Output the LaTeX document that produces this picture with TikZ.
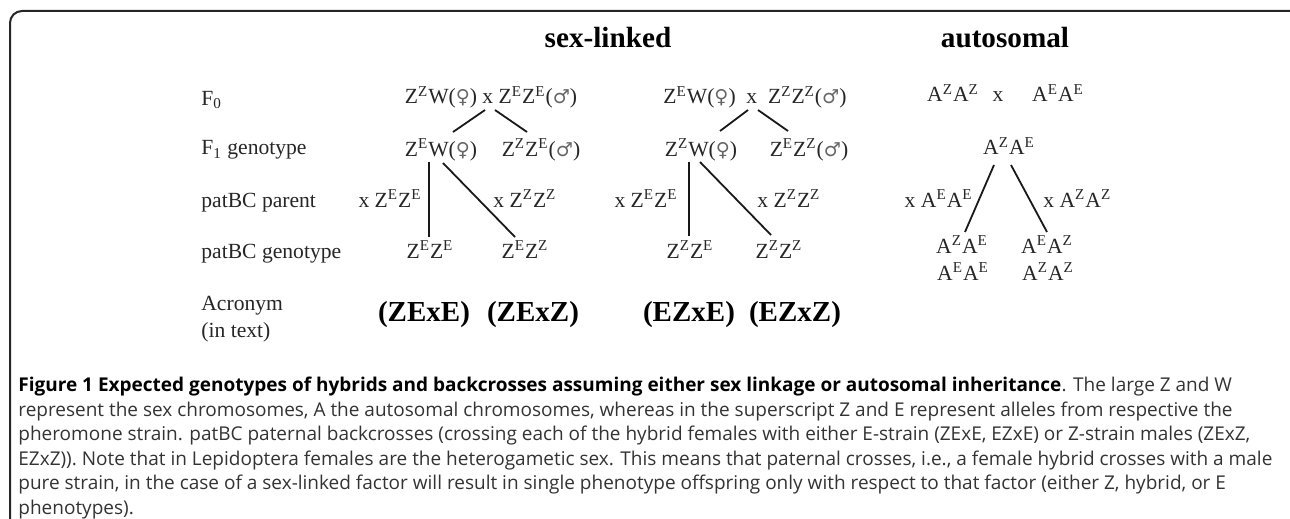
\documentclass[tikz,border=0pt]{standalone}
\usepackage{fontspec}
\setmainfont{Liberation Serif}
\newfontfamily\capfont{Open Sans}
\newfontfamily\symfont{DejaVu Sans}
\newcommand\zs[1]{Z\textsuperscript{#1}}
\newcommand\as[1]{A\textsuperscript{#1}}
\newcommand\fem{{\symfont\color{black!60}\fontsize{9.6}{12}\selectfont ♀}}
\newcommand\mal{{\symfont\color{black!60}\fontsize{9.6}{12}\selectfont ♂}}
\begin{document}
\begin{tikzpicture}[x=0.5pt,y=-0.5pt,
  lbl/.style={anchor=base west,inner sep=0pt,font=\fontsize{10.8}{13}\selectfont,text=black!85},
  gt/.style={anchor=base,inner sep=0pt,font=\fontsize{10.8}{13}\selectfont,text=black!85},
  hdr/.style={anchor=base,inner sep=0pt,font=\bfseries\fontsize{14.6}{17}\selectfont},
  acr/.style={anchor=base,inner sep=0pt,font=\bfseries\fontsize{14.5}{17}\selectfont},
  ln/.style={line width=0.9pt,black!90},
  frame/.style={line width=1pt,rounded corners=6pt,black!85}]
\useasboundingbox (0,0) rectangle (1290,519);
\clip (0,0) rectangle (1290,519);
\draw[frame] (10,11) rectangle (1302,531);
% headers
\node[hdr] (hsl) at (608,48) {sex-linked};
\node[hdr] (hau) at (1005,48) {autosomal};
% row labels
\node[lbl] (r0) at (201,105) {F\textsubscript{0}};
\node[lbl] (r1) at (201,155) {F\textsubscript{1} genotype};
\node[lbl] (r2) at (201,207) {patBC parent};
\node[lbl] (r3) at (201,258) {patBC genotype};
\node[lbl] (r4) at (201,310) {Acronym};
\node[lbl] (r5) at (201,337) {(in text)};
% sex-linked column 1
\node[gt] (p0a) at (491,104) {\zs{Z}W(\fem) x \zs{E}\zs{E}(\mal)};
\node[gt] (g1a) at (441,156) {\zs{E}W(\fem)};
\node[gt] (g1b) at (541,156) {\zs{Z}\zs{E}(\mal)};
\node[gt,anchor=base east] (pa1) at (422,207) {x \zs{E}\zs{E}};
\node[gt,anchor=base west] (pa2) at (493,207) {x \zs{Z}\zs{Z}};
\node[gt] (b1a) at (430,258) {\zs{E}\zs{E}};
\node[gt] (b1b) at (525,258) {\zs{E}\zs{Z}};
\node[acr] (ac1) at (424,321) {(ZExE)};
\node[acr] (ac2) at (533,321) {(ZExZ)};
\coordinate (a1) at (485,110); \coordinate (a2) at (453,132);
\coordinate (a3) at (495,110); \coordinate (a4) at (527,132);
\coordinate (a5) at (429,162); \coordinate (a6) at (429,237);
\coordinate (a7) at (443,163); \coordinate (a8) at (515,237);
\draw[ln] (a1) -- (a2); \draw[ln] (a3) -- (a4);
\draw[ln] (a5) -- (a6); \draw[ln] (a7) -- (a8);
% sex-linked column 2
\node[gt] (p0b) at (755,104) {\zs{E}W(\fem)\ \ x\ \ \zs{Z}\zs{Z}(\mal)};
\node[gt] (g2a) at (701,156) {\zs{Z}W(\fem)};
\node[gt] (g2b) at (809,156) {\zs{E}\zs{Z}(\mal)};
\node[gt,anchor=base east] (pb1) at (678,207) {x \zs{E}\zs{E}};
\node[gt,anchor=base west] (pb2) at (757,207) {x \zs{Z}\zs{Z}};
\node[gt] (b2a) at (690,258) {\zs{Z}\zs{E}};
\node[gt] (b2b) at (779,258) {\zs{Z}\zs{Z}};
\node[acr] (ac3) at (689,321) {(EZxE)};
\node[acr] (ac4) at (795,321) {(EZxZ)};
\coordinate (b1) at (748,110); \coordinate (b2) at (720,131);
\coordinate (b3) at (758,110); \coordinate (b4) at (788,131);
\coordinate (b5) at (689,162); \coordinate (b6) at (689,236);
\coordinate (b7) at (700,162); \coordinate (b8) at (771,235);
\draw[ln] (b1) -- (b2); \draw[ln] (b3) -- (b4);
\draw[ln] (b5) -- (b6); \draw[ln] (b7) -- (b8);
% autosomal
\node[gt] (q0a) at (953,102) {\as{Z}\as{Z}};
\node[gt] (q0x) at (998,102) {x};
\node[gt] (q0b) at (1058,102) {\as{E}\as{E}};
\node[gt] (q1) at (1009,155) {\as{Z}\as{E}};
\node[gt,anchor=base east] (qa1) at (973,207) {x \as{E}\as{E}};
\node[gt,anchor=base west] (qa2) at (1043,207) {x \as{Z}\as{Z}};
\node[gt] (q2a) at (962,253) {\as{Z}\as{E}};
\node[gt] (q2b) at (963,280) {\as{E}\as{E}};
\node[gt] (q2c) at (1047,253) {\as{E}\as{Z}};
\node[gt] (q2d) at (1048,280) {\as{Z}\as{Z}};
\coordinate (c1) at (994,165); \coordinate (c2) at (965,232);
\coordinate (c3) at (1011,165); \coordinate (c4) at (1047,232);
\draw[ln] (c1) -- (c2); \draw[ln] (c3) -- (c4);
% caption
\node[anchor=base west,align=left,inner sep=0pt,text=black!80,
  font=\capfont\fontsize{9.5}{12.25}\selectfont] (cap) at (18,514)
 {{\bfseries\color{black}Figure 1 Expected genotypes of hybrids and backcrosses assuming either sex linkage or autosomal inheritance}. The large Z and W\\
 represent the sex chromosomes, A the autosomal chromosomes, whereas in the superscript Z and E represent alleles from respective the\\
 pheromone strain. patBC paternal backcrosses (crossing each of the hybrid females with either E-strain (ZExE, EZxE) or Z-strain males (ZExZ,\\
 EZxZ)). Note that in Lepidoptera females are the heterogametic sex. This means that paternal crosses, i.e., a female hybrid crosses with a male\\
 pure strain, in the case of a sex-linked factor will result in single phenotype offspring only with respect to that factor (either Z, hybrid, or E\\
 phenotypes).};
\end{tikzpicture}
\end{document}
